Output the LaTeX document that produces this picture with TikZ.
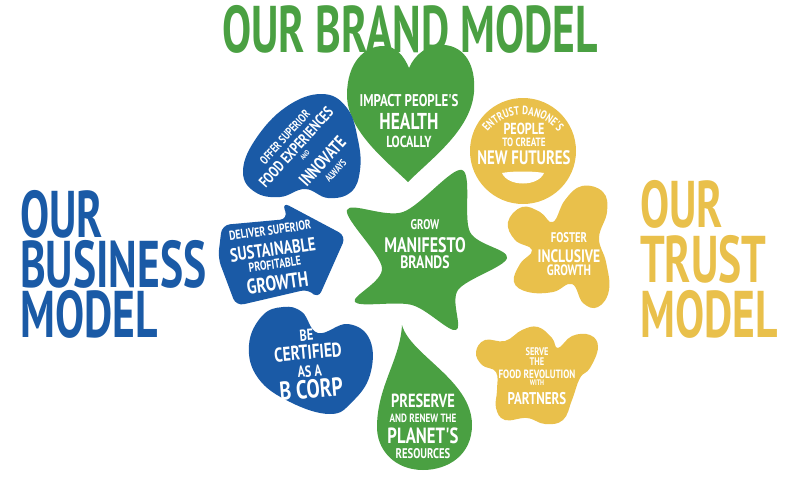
\documentclass[tikz,border=0pt]{standalone}
\usepackage{fontspec}
\newfontfamily\brandfont{PT Sans}[FakeStretch=0.66]
\newfontfamily\labelfont{PT Sans}[FakeStretch=0.76]
\usetikzlibrary{positioning, decorations.text}
\definecolor{brandgreen}{HTML}{4AA042}
\definecolor{businessblue}{HTML}{1A5AA6}
\definecolor{trustyellow}{HTML}{E9C04B}
\newcommand{\bsz}[1]{\fontsize{#1}{#1}\selectfont}

\begin{document}
\begin{tikzpicture}[x=1pt, y=-1pt,
  txt/.style={text=white, align=center, inner sep=0pt, font=\labelfont\bfseries\fontsize{10}{0}\selectfont},
  headline/.style={inner sep=0pt, font=\brandfont\bfseries\fontsize{66}{50}\selectfont}]
\useasboundingbox (0,0) rectangle (798,485);

% Titles
\node[headline, text=brandgreen] (brandtitle) at (410,29) {OUR BRAND MODEL};
\node[headline, text=businessblue, anchor=north west, align=left] (businesstitle) at (20,190) {OUR\\BUSINESS\\MODEL};
\node[headline, text=trustyellow, anchor=north west, align=left, font=\brandfont\bfseries\fontsize{66}{55}\selectfont] (trusttitle) at (640,180) {OUR\\TRUST\\MODEL};

% Green shapes
\fill[brandgreen] (408,182) .. controls (385,160) and (347,130) .. (347,95) .. controls (347,62) and (365,46) .. (383,46) .. controls (396,46) and (404,56) .. (409,68) .. controls (415,54) and (428,44) .. (445,45) .. controls (464,47) and (476,64) .. (474,92) .. controls (471,130) and (432,158) .. cycle;
\fill[brandgreen] plot[smooth cycle, tension=0.55] coordinates {(347,210) (403,212) (462,170) (470,232) (507,258) (458,290) (456,330) (412,305) (355,302) (382,268)};
\fill[brandgreen] (402,325) .. controls (410,355) and (472,380) .. (472,425) .. controls (472,455) and (448,470) .. (423,470) .. controls (395,470) and (376,450) .. (377,425) .. controls (378,385) and (400,360) .. cycle;

% Blue shapes
\fill[businessblue] plot[smooth cycle, tension=0.7] coordinates {(322,94) (347,108) (358,140) (360,170) (351,192) (328,198) (305,189) (280,197) (255,192) (243,172) (255,140) (286,107)};
\fill[businessblue, rounded corners=8] (222,225) -- (288,219) -- (282,202) -- (346,236) -- (318,299) -- (309,289) -- (236,306) -- (218,258) -- cycle;
\fill[businessblue] plot[smooth cycle, tension=0.7] coordinates {(283,307) (302,312) (318,333) (348,324) (370,340) (370,375) (352,402) (330,414) (290,402) (258,378) (249,345) (262,316)};

% Yellow shapes
\fill[trustyellow] (523,151) circle[radius=53pt];
\fill[white] (502,173) .. controls (512,171) and (533,171) .. (544,173) .. controls (538,187) and (508,187) .. cycle;
\fill[trustyellow] plot[smooth cycle, tension=0.7] coordinates {(508,222) (522,207) (540,212) (553,222) (565,200) (582,186) (603,192) (607,212) (599,238) (606,262) (609,290) (598,307) (583,303) (572,284) (553,292) (528,292) (514,282) (520,264) (532,250) (515,240)};
\fill[trustyellow] plot[smooth cycle, tension=0.7] coordinates {(476,352) (485,340) (505,341) (522,330) (538,327) (552,338) (558,348) (572,336) (590,335) (598,347) (590,368) (580,378) (572,400) (563,420) (545,424) (527,418) (505,420) (496,408) (497,390) (496,372) (482,365)};

% Texts
\node[txt] (healthtext) at (409,121) {\bsz{17}IMPACT PEOPLE'S\\[5.9pt]\bsz{23}HEALTH\\[5.8pt]\bsz{16}LOCALLY};
\node[txt] (growtext) at (425,244) {\bsz{14}GROW\\[6.8pt]\bsz{21}MANIFESTO\\[2.4pt]\bsz{18}BRANDS};
\node[txt] (planettext) at (423,426) {\bsz{19}PRESERVE\\[5.6pt]\bsz{12}AND RENEW THE\\[4.6pt]\bsz{22}PLANET'S\\[3.2pt]\bsz{14}RESOURCES};
\node[txt, rotate=48] (innovatetext) at (307,157) {\bsz{12}OFFER SUPERIOR\\[4.1pt]\bsz{15.5}FOOD EXPERIENCES\\[2.9pt]\bsz{7}AND\\[6.9pt]\hspace*{14pt}\bsz{18}INNOVATE\\[5pt]\hspace*{18pt}\bsz{10}ALWAYS};
\node[txt, rotate=8] (growthtext) at (274,258) {\bsz{13}DELIVER SUPERIOR\\[6.7pt]\bsz{19}SUSTAINABLE\\[2.4pt]\bsz{13}PROFITABLE\\[5.3pt]\bsz{21}GROWTH};
\node[txt, rotate=5] (bcorptext) at (309,364) {\bsz{16}BE\\[3pt]\bsz{20}CERTIFIED\\[4.8pt]\bsz{16}AS A\\[1.8pt]\bsz{26}B CORP};
\node[txt] (peopletext) at (524,144) {\bsz{16}PEOPLE\\[2.6pt]\bsz{12}TO CREATE\\[3.3pt]\bsz{19.5}NEW FUTURES};
\path[decorate, decoration={text along path, text align=center, text color=white,
  text={|\labelfont\bfseries\bsz{12}|ENTRUST DANONE'S}}] (523,160) ++(200:45) arc[start angle=200, end angle=340, radius=45];
\node[txt] (inclusivetext) at (569,254) {\bsz{14}FOSTER\\[6.4pt]\bsz{18}INCLUSIVE\\[0.5pt]\bsz{15}GROWTH};
\node[txt] (partnerstext) at (537,376) {\bsz{11}SERVE\\[1.3pt]\bsz{11}THE\\[3.6pt]\bsz{12}FOOD REVOLUTION\\[0.4pt]\bsz{8}WITH\\[5.1pt]\bsz{17}PARTNERS};
\end{tikzpicture}
\end{document}
